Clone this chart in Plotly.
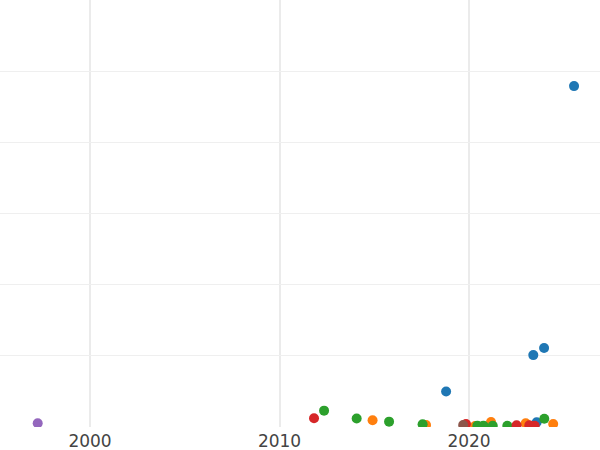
import plotly.graph_objects as go

# year (fractional) and value for each colour group
blue_x = [2018.79, 2023.39, 2023.57, 2023.96, 2025.54]
blue_y = [50, 101, 6.6, 111, 479]

orange_x = [2014.91, 2017.73, 2020.32, 2021.16, 2022.99, 2024.44]
orange_y = [9.4, 2.8, 1.4, 7, 5.2, 4.2]

green_x = [2012.35, 2014.07, 2015.78, 2017.55, 2020.44, 2020.76, 2021.25, 2022.02, 2023.97]
green_y = [23, 12, 7.5, 3.8, 1.9, 1.9, 1.8, 1.8, 11.7]

red_x = [2011.82, 2019.84, 2022.51, 2023.18, 2023.46]
red_y = [12.2, 4.2, 2.4, 2.4, 1.8]

purple_x = [1997.24]
purple_y = [5.2]

brown_x = [2019.69]
brown_y = [2.8]

groups = [
    (blue_x, blue_y, '#1f77b4'),
    (orange_x, orange_y, '#ff7f0e'),
    (green_x, green_y, '#2ca02c'),
    (red_x, red_y, '#d62728'),
    (purple_x, purple_y, '#9467bd'),
    (brown_x, brown_y, '#8c564b'),
]

fig = go.Figure()

for xs, ys, color in groups:
    fig.add_trace(go.Scatter(x=xs, y=ys,
                             mode='markers',
                             marker=dict(color=color, size=10),
                             showlegend=False))

fig.update_layout(
    width=600, height=450,
    margin=dict(l=0, r=0, t=0, b=23),
    plot_bgcolor='white',
    paper_bgcolor='white',
    font=dict(family='DejaVu Sans', size=17, color='#444'),
    xaxis=dict(range=[1995.25, 2026.91],
               tickvals=[2000, 2010, 2020],
               ticklabelstandoff=2,
               showgrid=True, gridcolor='#ebebeb', gridwidth=2,
               zeroline=False, showline=False),
    yaxis=dict(range=[0, 600], dtick=100,
               showticklabels=False,
               showgrid=True, gridcolor='#efefef', gridwidth=1,
               zeroline=False, showline=False),
)

# drop the page's default body margin so the figure sits at the window corner
fig.write_html("out.html", config={'displayModeBar': False},
               post_script="document.body.style.margin='0';")
